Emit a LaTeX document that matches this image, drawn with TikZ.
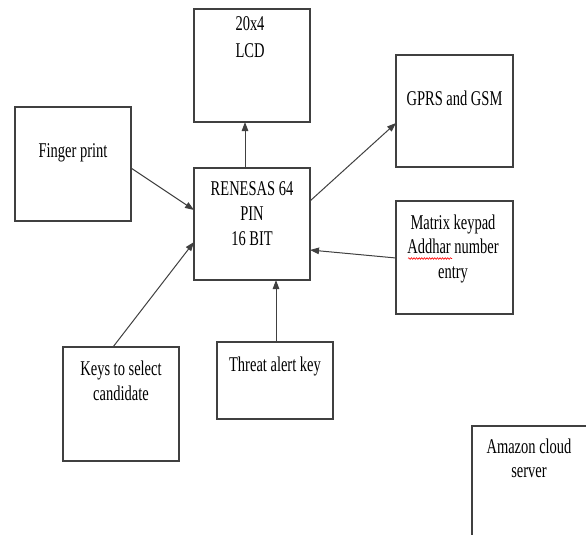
\documentclass[tikz,border=0pt]{standalone}
\usepackage{fontspec}
\setmainfont{Liberation Serif}[FakeStretch=0.69]
\usetikzlibrary{arrows.meta,decorations.pathmorphing}
\begin{document}
\begin{tikzpicture}[x=1pt,y=-1pt,
  box/.style={draw=black!75, line width=1.1pt, rectangle, inner sep=0pt, outer sep=0pt},
  lbl/.style={anchor=base, inner sep=0pt, font=\fontsize{21}{25}\selectfont},
  conn/.style={draw=black!75, line width=1pt, -{Triangle[length=9pt,width=6.5pt]}}]
\useasboundingbox (0,0) rectangle (586,535);
% boxes
\node[box, minimum width=116pt, minimum height=113pt] (lcd) at (252,65.5) {};
\node[box, minimum width=117pt, minimum height=112pt] (gprs) at (454.5,111) {};
\node[box, minimum width=116pt, minimum height=114pt] (fp) at (73,164) {};
\node[box, minimum width=116pt, minimum height=112pt] (ren) at (252,224) {};
\node[box, minimum width=117pt, minimum height=113pt] (mat) at (454.5,257.5) {};
\node[box, minimum width=116pt, minimum height=114pt] (keys) at (121,404) {};
\node[box, minimum width=116pt, minimum height=77pt] (thr) at (275,380.5) {};
\begin{scope}
\clip (0,0) rectangle (586,535);
\node[box, minimum width=116pt, minimum height=114pt] (amz) at (530,483) {};
\end{scope}
% texts
\node[lbl] (lcdA) at (250,31) {20x4};
\node[lbl] (lcdB) at (250,57) {LCD};
\node[lbl] (gprsA) at (454.5,105) {GPRS and GSM};
\node[lbl] (fpA) at (73,157) {Finger print};
\node[lbl] (renA) at (252,195) {RENESAS 64};
\node[lbl] (renB) at (252,220) {PIN};
\node[lbl] (renC) at (252,245.5) {16 BIT};
\node[lbl] (matA) at (453,229) {Matrix keypad};
\node[lbl] (matB) at (453,253.5) {Addhar number};
\node[lbl] (matC) at (453,278) {entry};
\node[lbl] (keysA) at (121,375) {Keys to select};
\node[lbl] (keysB) at (121,400) {candidate};
\node[lbl] (thrA) at (275,371.5) {Threat alert key};
\node[lbl] (amzA) at (529,453) {Amazon cloud};
\node[lbl] (amzB) at (529,477.5) {server};
% spelling underline
\coordinate (ulA) at (408,258.5);
\coordinate (ulB) at (452,258.5);
\draw[red, line width=0.6pt, decorate, decoration={snake, amplitude=0.8pt, segment length=2.6pt}] (ulA) -- (ulB);
% connectors
\draw[conn] ([xshift=-7pt]ren.north) -- ([xshift=-7pt]lcd.south);
\draw[conn] (ren.east |- 0,201) -- (gprs.west |- 0,123);
\draw[conn] (fp.east |- 0,168) -- (ren.west |- 0,210);
\draw[conn] (keys.north -| 113,0) -- (ren.west |- 0,242);
\draw[conn] (mat.west |- 0,258) -- (ren.east |- 0,250);
\draw[conn] ([xshift=1pt]thr.north) -- ([xshift=1pt]thr.north |- ren.south);
\end{tikzpicture}
\end{document}
